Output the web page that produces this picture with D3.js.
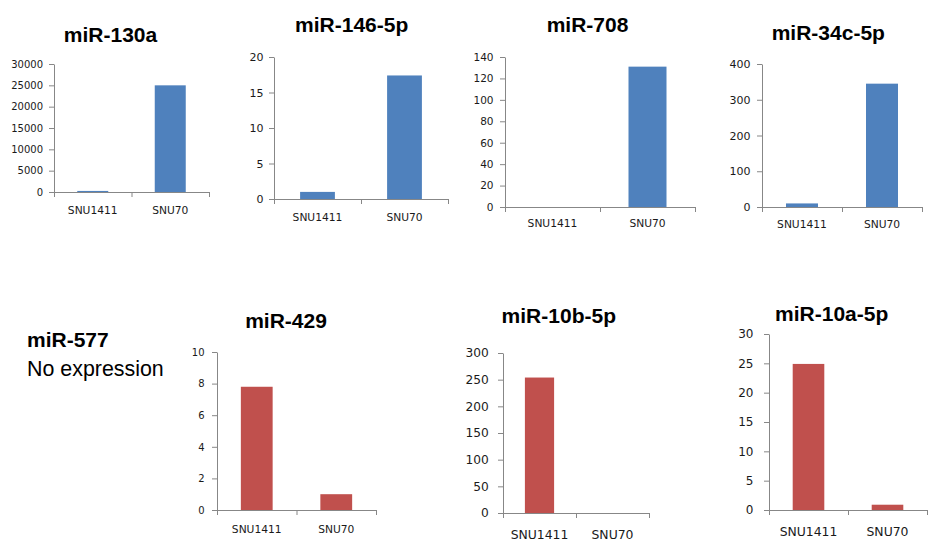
<!DOCTYPE html>
<html><head><meta charset="utf-8">
<script src="https://cdn.jsdelivr.net/npm/d3@7"></script>
<style>body{margin:0;background:#fff}svg{display:block}</style>
</head><body><svg id="c" width="936" height="552"></svg>
<script>
// ---- data ----
const categories = ["SNU1411", "SNU70"];
const titles = ["miR-130a", "miR-146-5p", "miR-708", "miR-34c-5p", "miR-429", "miR-10b-5p", "miR-10a-5p"];
const mir130a = [250, 25000];
const mir146 = [1, 17.4];
const mir708 = [0, 131];
const mir34c = [10, 345];
const mir429 = [7.8, 1.0];
const mir10b = [254, 0];
const mir10a = [24.9, 0.9];
const ticks130a = [0, 5000, 10000, 15000, 20000, 25000, 30000];
const ticks146 = [0, 5, 10, 15, 20];
const ticks708 = [0, 20, 40, 60, 80, 100, 120, 140];
const ticks34c = [0, 100, 200, 300, 400];
const ticks429 = [0, 2, 4, 6, 8, 10];
const ticks10b = [0, 50, 100, 150, 200, 250, 300];
const ticks10a = [0, 5, 10, 15, 20, 25, 30];
const noExprTitle = "miR-577";
const noExprText = "No expression";

const seriesList = [mir130a, mir146, mir708, mir34c, mir429, mir10b, mir10a];
const tickList = [ticks130a, ticks146, ticks708, ticks34c, ticks429, ticks10b, ticks10a];

// ---- layout / style ----
const BLUE = "#4F81BD", RED = "#C0504D", AXIS = "#878787";
const layout = [
  {x0: 54, x1: 209, yTop: 64, yZero: 192, tx: 110.5, ty: 41.5, tf: 10, pad: 6, cf: 10.7, co: 22, color: BLUE},
  {x0: 274, x1: 448, yTop: 57, yZero: 199, tx: 351.7, ty: 32.3, tf: 11, pad: 5.5, cf: 10.7, co: 22.4, color: BLUE},
  {x0: 505, x1: 695, yTop: 57, yZero: 207, tx: 587.5, ty: 32.3, tf: 10.5, pad: 6.5, cf: 10.7, co: 20, color: BLUE},
  {x0: 762, x1: 922, yTop: 64, yZero: 207, tx: 828.3, ty: 40, tf: 11, pad: 6.5, cf: 10.7, co: 21, color: BLUE},
  {x0: 217, x1: 376, yTop: 352, yZero: 510, tx: 286, ty: 328.3, tf: 10, pad: 7.5, cf: 10.7, co: 23.3, color: RED},
  {x0: 503, x1: 649, yTop: 353, yZero: 513, tx: 558.8, ty: 323.3, tf: 12.2, pad: 9.2, cf: 12.4, co: 25.6, color: RED},
  {x0: 769, x1: 927, yTop: 334, yZero: 510, tx: 831.7, ty: 320.7, tf: 12, pad: 10.5, cf: 12.4, co: 26, color: RED}
];

const svg = d3.select("#c");

layout.forEach((L, i) => {
  const vals = seriesList[i];
  const tks = tickList[i];
  const g = svg.append("g");
  const x = d3.scaleBand().domain(categories).range([L.x0, L.x1]).paddingInner(0.6).paddingOuter(0.3);
  const y = d3.scaleLinear().domain([0, tks[tks.length - 1]]).range([L.yZero, L.yTop]);

  // bars
  g.selectAll("rect").data(vals).join("rect")
    .attr("x", (d, j) => x(categories[j]))
    .attr("width", x.bandwidth())
    .attr("y", d => y(d))
    .attr("height", d => y(0) - y(d))
    .attr("fill", L.color);

  // y axis
  const ya = g.append("g").attr("transform", `translate(${L.x0},0)`)
    .call(d3.axisLeft(y).tickValues(tks).tickSize(5).tickSizeOuter(0).tickPadding(L.pad).tickFormat(d3.format("d")));
  ya.selectAll("path,line").attr("stroke", AXIS);
  ya.selectAll("text").attr("font-family", "DejaVu Sans").attr("font-size", L.tf).attr("fill", "#1a1a1a");

  // x axis: boundary ticks
  const xb = d3.scaleLinear().domain([0, categories.length]).range([L.x0, L.x1]);
  const xa = g.append("g").attr("transform", `translate(0,${L.yZero})`)
    .call(d3.axisBottom(xb).tickValues(d3.range(categories.length + 1)).tickSize(5).tickSizeOuter(0).tickFormat(""));
  xa.selectAll("path,line").attr("stroke", AXIS);

  // category labels
  g.selectAll("text.cat").data(categories).join("text").attr("class", "cat")
    .attr("x", d => x(d) + x.bandwidth() / 2)
    .attr("y", L.yZero + L.co)
    .attr("text-anchor", "middle")
    .attr("font-family", "DejaVu Sans").attr("font-size", L.cf).attr("fill", "#1a1a1a")
    .text(d => d);

  // title
  g.append("text").attr("x", L.tx).attr("y", L.ty).attr("text-anchor", "middle")
    .attr("font-family", "Liberation Sans, Arial, sans-serif").attr("font-weight", "bold")
    .attr("font-size", 21).attr("fill", "#000").text(titles[i]);
});

// no expression note
svg.append("text").attr("x", 27).attr("y", 347.3)
  .attr("font-family", "Liberation Sans, Arial, sans-serif").attr("font-weight", "bold")
  .attr("font-size", 21).attr("fill", "#000").text(noExprTitle);
svg.append("text").attr("x", 27).attr("y", 376)
  .attr("font-family", "Liberation Sans, Arial, sans-serif")
  .attr("font-size", 21.4).attr("fill", "#000").text(noExprText);
</script>
</body></html>
